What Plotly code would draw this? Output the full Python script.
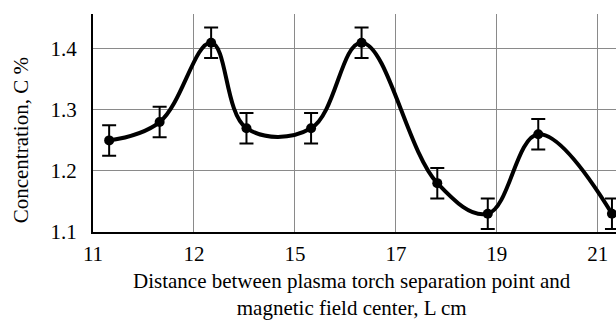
import plotly.graph_objects as go

# data (x in tick-index units; tick labels are non-uniform)
x_pos = [0.16, 0.66, 1.17, 1.52, 2.16, 2.66, 3.41, 3.91, 4.41, 5.14]
conc = [1.25, 1.28, 1.41, 1.27, 1.27, 1.41, 1.18, 1.13, 1.26, 1.13]
err = [0.025] * 10
tick_vals = [0, 1, 2, 3, 4, 5]
tick_text = ["11", "12", "15", "17", "19", "21"]
y_ticks = [1.1, 1.2, 1.3, 1.4]

FONT = "Liberation Serif"

fig = go.Figure()
fig.add_trace(go.Scatter(
    x=x_pos, y=conc, mode="lines+markers",
    line=dict(color="black", width=4, shape="spline", smoothing=1.1),
    marker=dict(color="black", size=10),
    error_y=dict(type="data", array=err, color="black", thickness=2, width=7),
    cliponaxis=False,
))

fig.update_layout(
    width=616, height=322,
    margin=dict(l=93, r=0, t=14, b=90),
    paper_bgcolor="white", plot_bgcolor="white",
    showlegend=False,
    font=dict(family=FONT, size=21, color="black"),
    xaxis=dict(range=[0, 5.18], tickmode="array", tickvals=tick_vals, ticktext=tick_text,
               showgrid=True, gridcolor="#8a8a8a", gridwidth=1,
               showline=True, linecolor="black", linewidth=2, ticks="", zeroline=False,
               ticklabelstandoff=2,
               tickfont=dict(family=FONT, size=21)),
    yaxis=dict(range=[1.1, 1.457], tickmode="array", tickvals=y_ticks,
               ticktext=["1.1", "1.2", "1.3", "1.4"],
               showgrid=True, gridcolor="#8a8a8a", gridwidth=1,
               showline=True, linecolor="black", linewidth=2, ticks="", zeroline=False,
               ticklabelstandoff=10,
               tickfont=dict(family=FONT, size=21)),
    annotations=[
        dict(text="Distance between plasma torch separation point and<br>magnetic field center, L cm",
             xref="paper", yref="paper", x=0.495, y=-0.16, xanchor="center", yanchor="top",
             showarrow=False, font=dict(family=FONT, size=21), align="center"),
        dict(text="Concentration, C %", xref="paper", yref="paper",
             x=-0.136, y=0.42, xanchor="center", yanchor="middle", textangle=-90,
             showarrow=False, font=dict(family=FONT, size=21)),
    ],
)

fig.write_html("out.html", config={"displayModeBar": False},
               post_script="document.body.style.margin='0';document.body.style.padding='0';")
